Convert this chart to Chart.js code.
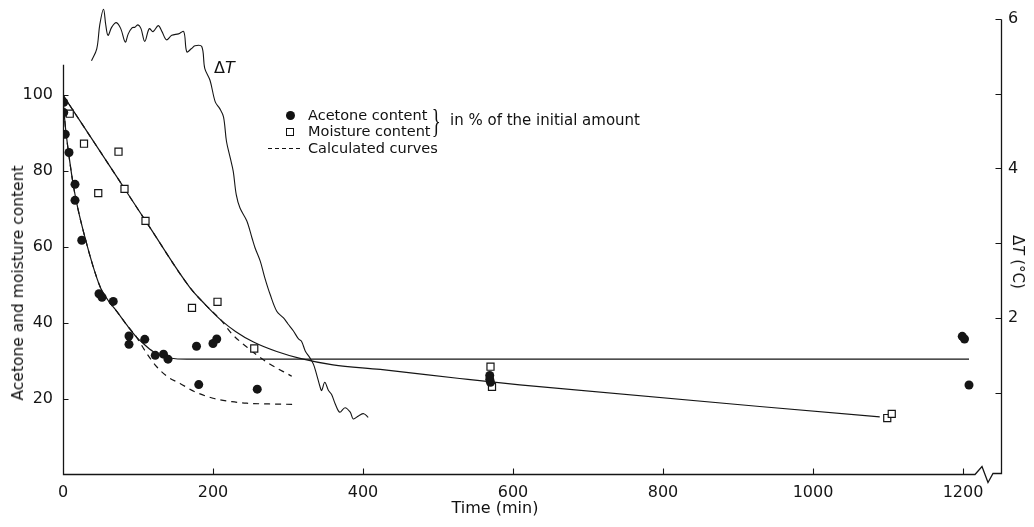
<!DOCTYPE html>
<html>
<head>
<meta charset="utf-8">
<script src="https://cdn.jsdelivr.net/npm/chart.js"></script>
<style>
body { margin: 0; background: #fff; }
#wrap { position: relative; width: 1034px; height: 527px; font-family: "DejaVu Sans", sans-serif; color: #111; }
#chart { position: absolute; left: 0; top: 0; }
.lbl { position: absolute; white-space: nowrap; font-size: 14.5px; line-height: 16px; }
.mid { transform: translate(-50%, -50%); }
</style>
</head>
<body>
<div id="wrap">
  <canvas id="chart" width="1034" height="527"></canvas>

  <div class="lbl" style="left:18px;top:283px;font-size:15.5px;transform:translate(-50%,-50%) rotate(-90deg);">Acetone and moisture content</div>
  <div class="lbl mid" style="left:495px;top:508px;font-size:16px;">Time (min)</div>
  <div class="lbl" style="left:1018px;top:262px;font-size:15px;transform:translate(-50%,-50%) rotate(90deg);">&Delta;<i>T</i> (°C)</div>
  <div class="lbl" style="left:214px;top:59px;font-size:16px;line-height:18px;">&Delta;<i>T</i></div>

  <!-- legend -->
  <div style="position:absolute;left:286px;top:111px;width:9px;height:9px;border-radius:50%;background:#111;"></div>
  <div style="position:absolute;left:286px;top:128px;width:8px;height:8px;box-sizing:border-box;border:1.2px solid #111;"></div>
  <div style="position:absolute;left:268px;top:148px;width:35px;height:1.3px;background:repeating-linear-gradient(to right,#111 0 4px,transparent 4px 7px);"></div>
  <div class="lbl" style="left:308px;top:107px;">Acetone content</div>
  <div class="lbl" style="left:308px;top:123px;">Moisture content</div>
  <div class="lbl" style="left:308px;top:140px;">Calculated curves</div>
  <div class="lbl" style="left:428px;top:104px;font-family:'Liberation Serif';font-size:34px;line-height:34px;transform:scaleX(0.55);">}</div>
  <div class="lbl" style="left:450px;top:112px;font-size:15px;">in % of the initial amount</div>
</div>

<script>
// measured points (time in min, % of initial amount)
var acetoneT   = [1, 1, 3, 8, 16, 16, 25, 48, 52, 67, 88, 88, 109, 123, 134, 140, 178, 181, 200, 205, 259, 569, 569, 570, 1199, 1202, 1208];
var acetoneVal = [98.1, 95.4, 89.7, 84.9, 76.5, 72.3, 61.8, 47.7, 46.8, 45.7, 36.6, 34.4, 35.7, 31.5, 31.8, 30.5, 33.9, 23.8, 34.6, 35.8, 22.6, 26.2, 25.2, 24.4, 36.5, 35.8, 23.7];

var moistureT   = [9, 28, 47, 74, 82, 110, 172, 206, 255, 570, 572, 1099, 1105];
var moistureVal = [95.1, 87.2, 74.2, 85.1, 75.3, 66.9, 44.0, 45.6, 33.3, 28.5, 23.2, 15.0, 16.1];

// drawn curves through the measurements
var acetoneFitT   = [0, 3, 8, 14, 20, 30, 40, 50, 60, 72, 85, 98, 107, 120, 135, 150, 165, 1208];
var acetoneFitVal = [99, 92, 84, 76, 70, 62, 55, 49.3, 46, 43, 39.5, 36.3, 34.6, 32.5, 31.2, 30.6, 30.5, 30.5];

var moistureFitT   = [0, 74, 116, 169, 190, 211, 230, 254, 285, 316, 360, 423, 529, 609, 1089];
var moistureFitVal = [100, 77.8, 65.1, 49.4, 44.8, 40.7, 37.8, 35, 32.5, 30.7, 29.0, 27.8, 25.4, 23.7, 15.3];

// calculated curves (dashed)
var acetoneCalcT   = [0, 3, 8, 14, 20, 30, 40, 50, 60, 72, 85, 98, 110, 125, 140, 156, 175, 200, 225, 245, 275, 307];
var acetoneCalcVal = [99, 92, 84, 76, 70, 62, 55, 49.3, 46, 43, 39.5, 36.3, 32.5, 28.5, 25.8, 24.1, 22, 20.2, 19.3, 18.9, 18.7, 18.6];

var moistureCalcT   = [0, 74, 116, 169, 190, 211, 225, 245, 271, 305];
var moistureCalcVal = [100, 77.8, 65.1, 49.4, 44.8, 40.7, 37.2, 33.7, 29.8, 26.0];

// temperature difference (right axis, °C)
var dtT   = [38, 45, 49, 54, 57, 60, 65, 71, 77, 83, 87, 92, 96, 100, 104, 109, 115, 120, 127, 132, 138, 145, 154, 161, 165, 171, 176, 185, 189, 196, 203, 209, 214, 218, 223, 227, 231, 236, 245, 252, 256, 263, 269, 276, 285, 294, 300, 307, 314, 318, 323, 329, 334, 338, 343, 345, 349, 354, 358, 363, 369, 376, 383, 387, 394, 401, 407];
var dtVal = [5.44, 5.60, 5.92, 6.13, 5.92, 5.78, 5.89, 5.95, 5.87, 5.69, 5.80, 5.88, 5.89, 5.92, 5.87, 5.70, 5.87, 5.83, 5.91, 5.83, 5.72, 5.78, 5.80, 5.83, 5.56, 5.60, 5.64, 5.63, 5.34, 5.18, 4.89, 4.80, 4.69, 4.36, 4.14, 3.96, 3.65, 3.47, 3.30, 3.07, 2.94, 2.76, 2.54, 2.32, 2.09, 2.0, 1.92, 1.83, 1.72, 1.69, 1.56, 1.47, 1.38, 1.25, 1.07, 1.03, 1.14, 1.03, 0.98, 0.85, 0.74, 0.80, 0.74, 0.65, 0.69, 0.72, 0.67];

// axis ticks
var xTicks  = [0, 200, 400, 600, 800, 1000, 1200];
var yTicks  = [20, 40, 60, 80, 100];
var y2Ticks = [1, 2, 3, 4, 5, 6];
var y2Labels = [2, 4, 6];

var ink = '#151515';

function pts(xs, ys) {
    return xs.map(function (t, i) { return {x: t, y: ys[i]}; });
}

// axis lines, inward ticks and the break on the time axis
var axisDecor = {
    id: 'axisDecor',
    afterDatasetsDraw: function (chart) {
        var ctx = chart.ctx, x = chart.scales.x, y = chart.scales.y, y2 = chart.scales.y2;
        var left = Math.round(x.getPixelForValue(0)) + 0.5;
        var right = Math.round(x.right) - 0.5;
        var bottom = Math.round(y.getPixelForValue(0)) - 0.5;
        var bx = x.getPixelForValue(1216);
        ctx.save();
        ctx.strokeStyle = ink;
        ctx.lineWidth = 1.3;
        ctx.beginPath();
        ctx.moveTo(left, y.getPixelForValue(108));
        ctx.lineTo(left, bottom);
        ctx.lineTo(bx, bottom);
        ctx.lineTo(bx + 7, bottom - 8);
        ctx.lineTo(bx + 13, bottom + 8);
        ctx.lineTo(bx + 18, bottom - 1);
        ctx.lineTo(right, bottom - 1);
        ctx.lineTo(right, Math.round(y2.getPixelForValue(6)) + 0.5);
        ctx.stroke();

        ctx.lineWidth = 1.1;
        ctx.beginPath();
        xTicks.forEach(function (v) {
            if (v === 0) return;
            var px = Math.round(x.getPixelForValue(v)) + 0.5;
            ctx.moveTo(px, bottom);
            ctx.lineTo(px, bottom - 6);
        });
        yTicks.forEach(function (v) {
            var py = Math.round(y.getPixelForValue(v)) + 0.5;
            ctx.moveTo(left, py);
            ctx.lineTo(left + 5, py);
        });
        y2Ticks.forEach(function (v) {
            var py = Math.round(y2.getPixelForValue(v)) + 0.5;
            ctx.moveTo(right, py);
            ctx.lineTo(right - 6, py);
        });
        ctx.stroke();
        ctx.restore();
    }
};

// fixed scale sizes so the plot area lands where the original's does
function fixSize(prop, size) {
    return function (s) {
        s[prop] = size;
        s.paddingTop = 0; s.paddingBottom = 0;
        s.paddingLeft = 0; s.paddingRight = 0;
    };
}

var lineStyle = {pointRadius: 0, borderColor: ink, borderWidth: 1.2, fill: false};

new Chart(document.getElementById('chart'), {
    type: 'line',
    data: {
        datasets: [
            {label: 'Acetone content', data: pts(acetoneT, acetoneVal), showLine: false,
             pointStyle: 'circle', pointRadius: 4.5, pointBackgroundColor: ink, pointBorderColor: ink, pointBorderWidth: 0, order: 1},
            {label: 'Moisture content', data: pts(moistureT, moistureVal), showLine: false,
             pointStyle: 'rect', pointRadius: 5, pointBackgroundColor: '#fff', pointBorderColor: ink, pointBorderWidth: 1.2, order: 2},
            Object.assign({label: 'Acetone curve', data: pts(acetoneFitT, acetoneFitVal), cubicInterpolationMode: 'monotone', order: 3}, lineStyle),
            Object.assign({label: 'Moisture curve', data: pts(moistureFitT, moistureFitVal), cubicInterpolationMode: 'monotone', order: 4}, lineStyle),
            Object.assign({label: 'Acetone calculated', data: pts(acetoneCalcT, acetoneCalcVal), cubicInterpolationMode: 'monotone', borderDash: [6, 5], order: 5}, lineStyle),
            Object.assign({label: 'Moisture calculated', data: pts(moistureCalcT, moistureCalcVal), cubicInterpolationMode: 'monotone', borderDash: [6, 5], order: 6}, lineStyle),
            Object.assign({label: 'ΔT', data: pts(dtT, dtVal), yAxisID: 'y2', tension: 0.35, order: 7}, lineStyle, {borderWidth: 1.1})
        ]
    },
    options: {
        responsive: false,
        animation: false,
        devicePixelRatio: 1,
        layout: {padding: {top: 4, left: 0, right: 0, bottom: 0}},
        plugins: {legend: {display: false}, tooltip: {enabled: false}},
        scales: {
            x: {
                type: 'linear', position: 'bottom', min: 0, max: 1252,
                grid: {display: false, drawTicks: false}, border: {display: false},
                afterBuildTicks: function (s) { s.ticks = xTicks.map(function (v) { return {value: v}; }); },
                afterFit: fixSize('height', 52),
                ticks: {padding: 8, color: ink, font: {family: 'DejaVu Sans', size: 16},
                        callback: function (v) { return String(v); }}
            },
            y: {
                type: 'linear', position: 'left', min: 0, max: 123.4,
                grid: {display: false, drawTicks: false}, border: {display: false},
                afterBuildTicks: function (s) { s.ticks = yTicks.map(function (v) { return {value: v}; }); },
                afterFit: fixSize('width', 63),
                ticks: {padding: 10, color: ink, font: {family: 'DejaVu Sans', size: 16},
                        callback: function (v) { return String(v); }}
            },
            y2: {
                type: 'linear', position: 'right', min: -0.1, max: 6.17,
                grid: {display: false, drawTicks: false}, border: {display: false},
                afterBuildTicks: function (s) { s.ticks = y2Ticks.map(function (v) { return {value: v}; }); },
                afterFit: fixSize('width', 32),
                ticks: {padding: 6, color: ink, font: {family: 'DejaVu Sans', size: 16},
                        callback: function (v) { return y2Labels.indexOf(v) >= 0 ? String(v) : ''; }}
            }
        }
    },
    plugins: [axisDecor]
});
</script>
</body>
</html>
